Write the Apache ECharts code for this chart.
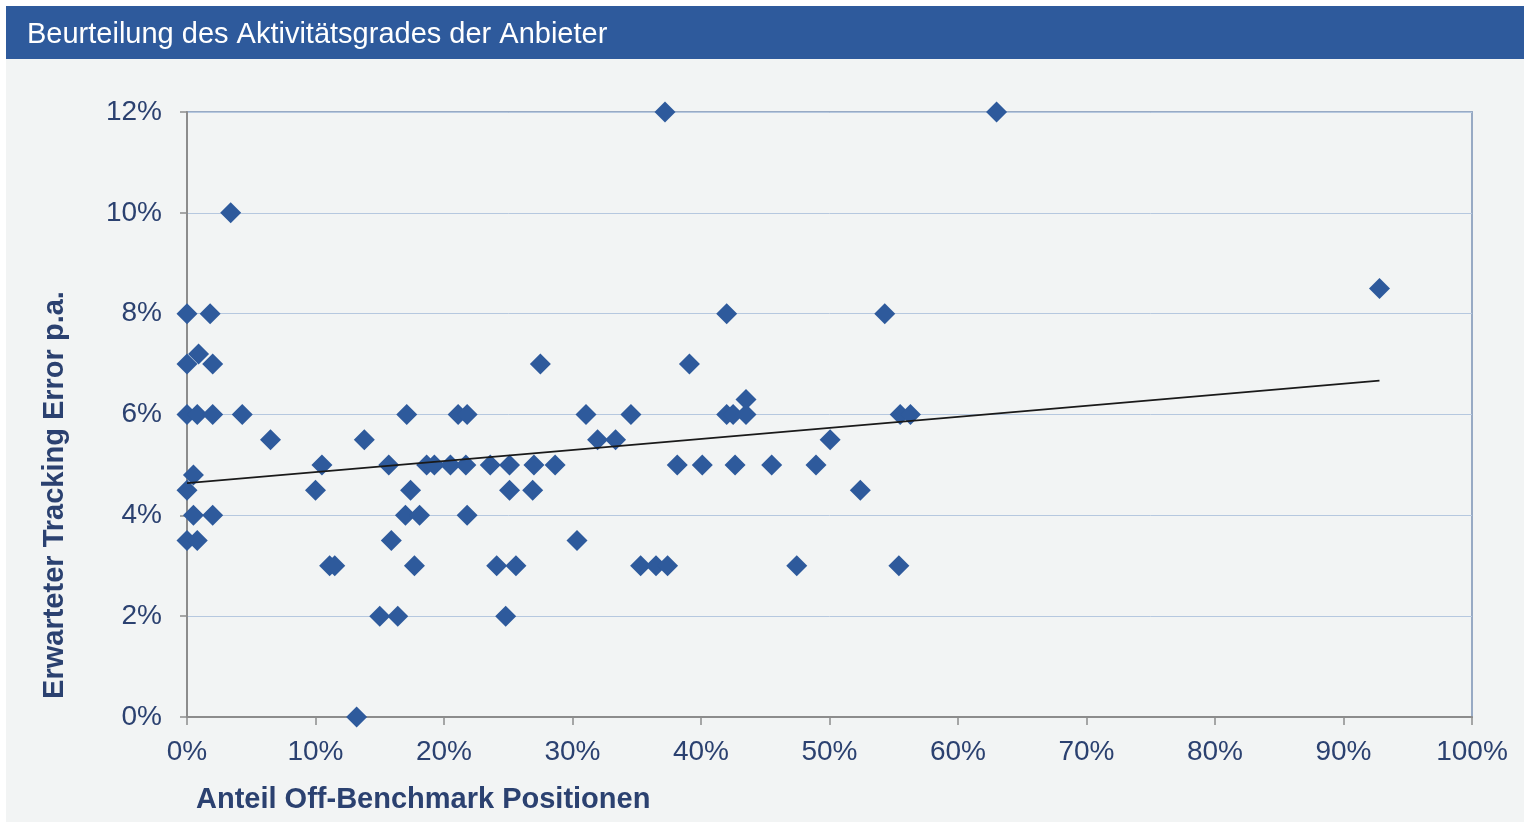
<!DOCTYPE html>
<html>
<head>
<meta charset="utf-8">
<script src="https://cdn.jsdelivr.net/npm/echarts@6/dist/echarts.min.js"></script>
<style>
  html, body { margin: 0; padding: 0; background: #ffffff; }
  #chart { width: 1524px; height: 823px; }
</style>
</head>
<body>
<div id="chart"></div>
<script>
// Anteil Off-Benchmark Positionen (%) / Erwarteter Tracking Error p.a. (%)
var offBenchmark = [0, 1.8, 3.4, 0, 0.9, 2.0, 0, 0.8, 2.0, 4.3, 6.5, 0.5, 0, 0.5, 2.0, 0, 0.8,
  10.5, 10.0, 11.1, 11.5, 13.2, 13.8, 15.0, 16.4, 15.7, 15.9, 17.1, 17.4, 17.0, 18.1, 17.7,
  18.65, 19.25, 20.5, 21.7, 21.1, 21.8, 21.8, 23.6, 25.1, 27.0, 28.65, 25.1, 26.9, 24.1, 25.6,
  24.8, 27.5, 30.35, 31.05, 31.95, 33.35, 34.55, 35.3, 36.5, 37.4, 37.2, 38.15, 39.1, 40.1,
  42.0, 42.0, 42.5, 43.5, 43.5, 42.65, 45.5, 47.45, 48.95, 50.05, 52.4, 54.3, 55.5, 56.3,
  55.4, 63.0, 92.8];
var trackingError = [8, 8, 10, 7, 7.2, 7, 6, 6, 6, 6, 5.5, 4.8, 4.5, 4, 4, 3.5, 3.5,
  5, 4.5, 3, 3, 0, 5.5, 2, 2, 5, 3.5, 6, 4.5, 4, 4, 3,
  5, 5, 5, 5, 6, 6, 4, 5, 5, 5, 5, 4.5, 4.5, 3, 3,
  2, 7, 3.5, 6, 5.5, 5.5, 6, 3, 3, 3, 12, 5, 7, 5,
  8, 6, 6, 6, 6.3, 5, 5, 3, 5, 5.5, 4.5, 8, 6, 6,
  3, 12, 8.5];
var trendX = [0, 92.8];
var trendY = [4.64, 6.67];

var points = offBenchmark.map(function (x, i) { return [x, trackingError[i]]; });
var trend = trendX.map(function (x, i) { return [x, trendY[i]]; });

var FONT = "'Liberation Sans', Arial, sans-serif";
var TEXT = '#2b4170';

var chart = echarts.init(document.getElementById('chart'), null, { renderer: 'canvas' });

var option = {
  backgroundColor: '#ffffff',
  animation: false,
  graphic: [
    { type: 'rect', z: -10, shape: { x: 6, y: 59, width: 1518, height: 763 }, style: { fill: '#f2f4f4' } },
    { type: 'rect', z: -10, shape: { x: 6, y: 6, width: 1518, height: 53 }, style: { fill: '#2e5a9c' } },
    {
      type: 'text', left: 27, top: 20,
      style: { text: 'Beurteilung des Aktivitätsgrades der Anbieter', fill: '#ffffff', font: '29px ' + FONT }
    },
    {
      type: 'text', left: 196, top: 785,
      style: { text: 'Anteil Off-Benchmark Positionen', fill: TEXT, font: 'bold 29px ' + FONT }
    },
    {
      type: 'text', x: 55, y: 495, rotation: Math.PI / 2,
      style: { text: 'Erwarteter Tracking Error p.a.', fill: TEXT, font: 'bold 29px ' + FONT, align: 'center', verticalAlign: 'middle' }
    }
  ],
  grid: {
    left: 187, top: 112, width: 1285, height: 605,
    show: true, borderColor: '#98aac4', borderWidth: 2, backgroundColor: 'transparent'
  },
  xAxis: {
    type: 'value', min: 0, max: 100, interval: 10,
    axisLine: { lineStyle: { color: '#8c8c8c', width: 2 } },
    axisTick: { show: true, length: 8, lineStyle: { color: '#8c8c8c', width: 1.5 } },
    axisLabel: { formatter: '{value}%', margin: 21, fontSize: 28, fontFamily: FONT, color: TEXT },
    splitLine: { show: false }
  },
  yAxis: {
    type: 'value', min: 0, max: 12, interval: 2,
    axisLine: { show: true, lineStyle: { color: '#8c8c8c', width: 2 } },
    axisTick: { show: true, length: 7, lineStyle: { color: '#8c8c8c', width: 1.5 } },
    axisLabel: { formatter: '{value}%', margin: 25, fontSize: 28, fontFamily: FONT, color: TEXT },
    splitLine: { show: true, lineStyle: { color: '#b6c8df', width: 1 } }
  },
  series: [
    {
      type: 'scatter',
      symbol: 'diamond',
      symbolSize: 21,
      itemStyle: { color: '#2e5a9c', opacity: 1 },
      data: points,
      z: 3
    },
    {
      type: 'line',
      data: trend,
      symbol: 'none',
      lineStyle: { color: '#1a1a1a', width: 1.8 },
      z: 4
    }
  ]
};

chart.setOption(option);
</script>
</body>
</html>
